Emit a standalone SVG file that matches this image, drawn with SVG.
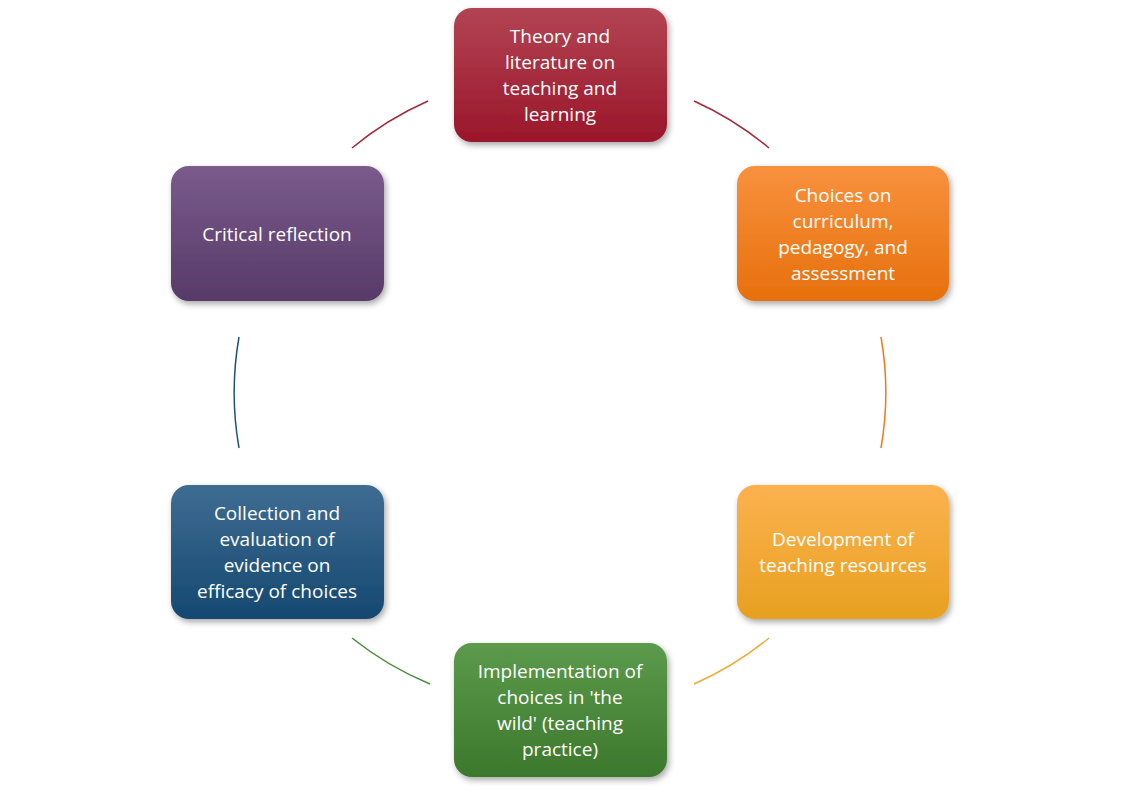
<svg xmlns="http://www.w3.org/2000/svg" width="1121" height="793" viewBox="0 0 1121 793">
<style>
.t{font-family:"Open Sans","Liberation Sans",sans-serif;font-size:19px;fill:#fff;text-anchor:middle}
.c{fill:none;stroke-width:1.5}
</style>
<defs>
<filter id="sh" x="-10%" y="-10%" width="130%" height="130%"><feDropShadow dx="2" dy="3" stdDeviation="3" flood-color="#000" flood-opacity="0.35"/></filter>
<linearGradient id="g1" x1="0" y1="0" x2="0" y2="1"><stop offset="0" stop-color="#b24453"/><stop offset="1" stop-color="#9a1629"/></linearGradient>
<linearGradient id="g2" x1="0" y1="0" x2="0" y2="1"><stop offset="0" stop-color="#f8913e"/><stop offset="1" stop-color="#e7700c"/></linearGradient>
<linearGradient id="g3" x1="0" y1="0" x2="0" y2="1"><stop offset="0" stop-color="#fbb24f"/><stop offset="1" stop-color="#e8a020"/></linearGradient>
<linearGradient id="g4" x1="0" y1="0" x2="0" y2="1"><stop offset="0" stop-color="#5c9a4c"/><stop offset="1" stop-color="#3c782c"/></linearGradient>
<linearGradient id="g5" x1="0" y1="0" x2="0" y2="1"><stop offset="0" stop-color="#3f6c92"/><stop offset="1" stop-color="#154870"/></linearGradient>
<linearGradient id="g6" x1="0" y1="0" x2="0" y2="1"><stop offset="0" stop-color="#7a5b8c"/><stop offset="1" stop-color="#573a68"/></linearGradient>
</defs>
<rect width="1121" height="793" fill="#fff"/>
<g id="connectors">
<path class="c" stroke="#a3283a" d="M694 101 A322 322 0 0 1 769 148"/>
<path class="c" stroke="#ec7a1a" d="M881 337 A322 322 0 0 1 881 448"/>
<path class="c" stroke="#eeaa35" d="M769 638 A322 322 0 0 1 694 684"/>
<path class="c" stroke="#4a8a3a" d="M430 684 A322 322 0 0 1 352 638"/>
<path class="c" stroke="#1f5278" d="M239 448 A322 322 0 0 1 239 337"/>
<path class="c" stroke="#a3283a" d="M352 148 A322 322 0 0 1 428 101"/>
</g>
<g id="n1"><rect x="454" y="8" width="213" height="134" rx="18" fill="url(#g1)" filter="url(#sh)"/>
<text class="t"><tspan x="560" y="43">Theory and</tspan><tspan x="560" y="69">literature on</tspan><tspan x="560" y="95">teaching and</tspan><tspan x="560" y="121">learning</tspan></text></g>
<g id="n2"><rect x="737" y="166" width="212" height="135" rx="18" fill="url(#g2)" filter="url(#sh)"/>
<text class="t"><tspan x="843" y="202">Choices on</tspan><tspan x="843" y="228">curriculum,</tspan><tspan x="843" y="254">pedagogy, and</tspan><tspan x="843" y="280">assessment</tspan></text></g>
<g id="n3"><rect x="737" y="485" width="212" height="134" rx="18" fill="url(#g3)" filter="url(#sh)"/>
<text class="t"><tspan x="843" y="546">Development of</tspan><tspan x="843" y="572">teaching resources</tspan></text></g>
<g id="n4"><rect x="454" y="643" width="213" height="134" rx="18" fill="url(#g4)" filter="url(#sh)"/>
<text class="t"><tspan x="560" y="678">Implementation of</tspan><tspan x="560" y="704">choices in 'the</tspan><tspan x="560" y="730">wild' (teaching</tspan><tspan x="560" y="756">practice)</tspan></text></g>
<g id="n5"><rect x="171" y="485" width="213" height="134" rx="18" fill="url(#g5)" filter="url(#sh)"/>
<text class="t"><tspan x="277" y="520">Collection and</tspan><tspan x="277" y="546">evaluation of</tspan><tspan x="277" y="572">evidence on</tspan><tspan x="277" y="598">efficacy of choices</tspan></text></g>
<g id="n6"><rect x="171" y="166" width="213" height="135" rx="18" fill="url(#g6)" filter="url(#sh)"/>
<text class="t"><tspan x="277" y="241">Critical reflection</tspan></text></g>
</svg>
